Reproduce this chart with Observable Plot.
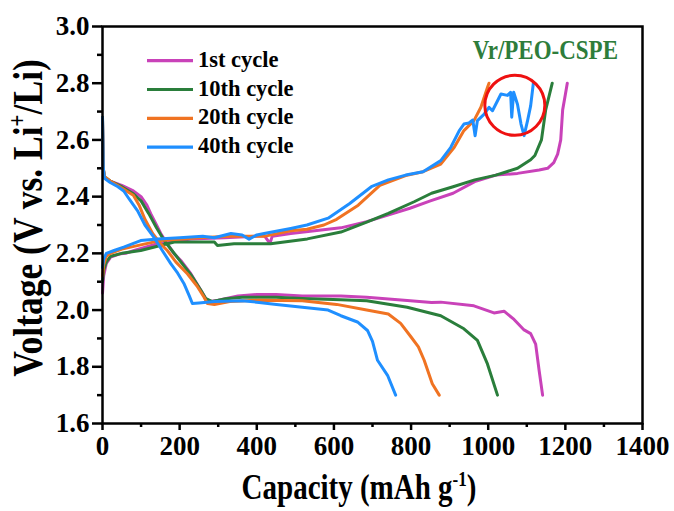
<!DOCTYPE html>
<html>
<head>
<meta charset="utf-8">
<script src="https://cdn.jsdelivr.net/npm/d3@7"></script>
<script src="https://cdn.jsdelivr.net/npm/@observablehq/plot@0.6"></script>
<style>
  html, body { margin: 0; padding: 0; background: #fff; }
  #chart { width: 674px; height: 511px; }
</style>
</head>
<body>
<div id="chart"></div>
<script>
// ---------- data (capacity mAh/g, voltage V) ----------
const seriesNames = ["1st cycle", "10th cycle", "20th cycle", "40th cycle"];
const seriesColors = ["#c942b9", "#2a7e3b", "#f07322", "#1f8fff"];

const c1Discharge = [[0,2.67],[2,2.5],[5,2.465],[20,2.455],[50,2.44],[80,2.42],[100,2.40],[115,2.37],[125,2.34],[140,2.30],[151,2.27],[168,2.234],[185,2.20],[203,2.175],[229,2.128],[255,2.07],[268,2.04],[280,2.03],[300,2.035],[351,2.05],[400,2.055],[450,2.055],[518,2.05],[618,2.05],[685,2.045],[790,2.034],[853,2.027],[877,2.028],[963,2.015],[1015,1.99],[1041,1.996],[1067,1.967],[1093,1.93],[1110,1.917],[1123,1.88],[1132,1.787],[1141,1.70]];
const c10Discharge = [[0,2.68],[2,2.5],[5,2.47],[20,2.455],[50,2.435],[80,2.41],[100,2.385],[120,2.34],[140,2.29],[160,2.245],[180,2.21],[203,2.17],[229,2.125],[255,2.07],[268,2.04],[285,2.03],[320,2.04],[362,2.045],[450,2.045],[518,2.041],[618,2.036],[685,2.033],[790,2.01],[877,1.98],[937,1.934],[972,1.893],[998,1.81],[1024,1.70]];
const c20Discharge = [[0,2.67],[2,2.5],[5,2.47],[20,2.455],[50,2.43],[80,2.405],[95,2.37],[110,2.32],[130,2.27],[150,2.235],[168,2.21],[190,2.17],[220,2.128],[245,2.085],[263,2.046],[272,2.023],[290,2.02],[330,2.03],[406,2.035],[518,2.033],[607,2.02],[685,2.0],[741,1.986],[773,1.953],[800,1.905],[819,1.87],[834,1.823],[855,1.74],[873,1.70]];
const c40Discharge = [[0,2.68],[2,2.5],[5,2.465],[20,2.45],[40,2.435],[55,2.42],[70,2.39],[91,2.35],[110,2.30],[133,2.257],[155,2.21],[177,2.164],[195,2.13],[211,2.094],[225,2.05],[233,2.023],[250,2.025],[290,2.03],[362,2.033],[406,2.027],[451,2.02],[518,2.01],[585,2.0],[618,1.98],[661,1.958],[687,1.928],[700,1.89],[713,1.823],[739,1.77],[760,1.70]];

const c1Charge = [[0,2.06],[3,2.12],[10,2.165],[21,2.187],[47,2.199],[60,2.2],[82,2.21],[143,2.234],[229,2.251],[316,2.255],[420,2.262],[434,2.235],[440,2.26],[488,2.27],[550,2.28],[618,2.29],[685,2.312],[740,2.335],[797,2.359],[850,2.385],[909,2.412],[965,2.453],[1020,2.476],[1076,2.482],[1132,2.494],[1154,2.5],[1170,2.52],[1180,2.55],[1188,2.6],[1193,2.706],[1200,2.76],[1205,2.8]];
const c10Charge = [[0,2.1],[3,2.14],[10,2.17],[21,2.19],[50,2.2],[99,2.21],[186,2.24],[290,2.24],[298,2.228],[341,2.234],[436,2.234],[531,2.251],[618,2.275],[685,2.31],[741,2.341],[808,2.382],[853,2.412],[909,2.435],[965,2.459],[1020,2.476],[1076,2.5],[1110,2.53],[1121,2.545],[1138,2.6],[1149,2.706],[1166,2.8]];
const c20Charge = [[0,2.12],[3,2.16],[10,2.19],[21,2.2],[50,2.215],[99,2.23],[150,2.245],[250,2.255],[330,2.26],[419,2.26],[488,2.28],[530,2.285],[574,2.3],[607,2.32],[663,2.37],[719,2.44],[786,2.474],[831,2.488],[877,2.515],[912,2.574],[937,2.633],[963,2.668],[981,2.715],[998,2.785],[1002,2.8]];
const c40Charge = [[0,2.15],[3,2.18],[10,2.2],[30,2.21],[55,2.222],[99,2.245],[143,2.251],[200,2.255],[260,2.26],[290,2.255],[333,2.27],[362,2.265],[380,2.25],[400,2.265],[419,2.27],[488,2.288],[530,2.3],[585,2.324],[641,2.376],[697,2.435],[741,2.459],[786,2.476],[831,2.488],[877,2.527],[903,2.574],[925,2.633],[937,2.656],[950,2.66],[960,2.67],[966,2.615],[972,2.668],[989,2.69],[1002,2.715],[1011,2.703],[1033,2.762],[1050,2.757],[1058,2.768],[1061,2.68],[1066,2.768],[1076,2.725],[1085,2.656],[1093,2.615],[1102,2.668],[1110,2.72],[1117,2.8]];

const xMajorTicks = [0, 200, 400, 600, 800, 1000, 1200, 1400];
const xMinorTicks = [100, 300, 500, 700, 900, 1100, 1300];
const yMajorTicks = [1.6, 1.8, 2.0, 2.2, 2.4, 2.6, 2.8, 3.0];
const yMinorTicks = [1.7, 1.9, 2.1, 2.3, 2.5, 2.7, 2.9];
const circleCenter = [{cap: 1069, v: 2.722}];
const annotationText = "Vr/PEO-CSPE";

// ---------- build tables ----------
const curves = [
  [c1Discharge, c1Charge],
  [c10Discharge, c10Charge],
  [c20Discharge, c20Charge],
  [c40Discharge, c40Charge]
];
const toRows = (arr, id) => arr.map(([cap, v]) => ({cap, v, id}));

const FONT = "'Liberation Serif','Times New Roman',serif";
const lineMarks = [];
curves.forEach((pair, i) => {
  pair.forEach((arr, j) => {
    lineMarks.push(Plot.line(toRows(arr, i + "-" + j), {x: "cap", y: "v", stroke: seriesColors[i], strokeWidth: 3, strokeLinejoin: "round", strokeLinecap: "round"}));
  });
});

const chart = Plot.plot({
  width: 674,
  height: 511,
  marginLeft: 102,
  marginRight: 32,
  marginTop: 26,
  marginBottom: 88,
  style: {fontFamily: FONT, fontSize: "27px", fontWeight: "bold", background: "white", color: "black", overflow: "visible"},
  x: {domain: [0, 1400]},
  y: {domain: [1.6, 3.0]},
  marks: [
    Plot.axisX({ticks: xMajorTicks, tickSize: 7, tickPadding: 5, strokeWidth: 2.5, label: null, tickFormat: d => String(d), fontSize: 27}),
    Plot.axisX({ticks: xMinorTicks, tickSize: 4, strokeWidth: 2.5, label: null, tickFormat: () => ""}),
    Plot.axisY({ticks: yMajorTicks, tickSize: 10, tickPadding: 3, strokeWidth: 2.5, label: null, tickFormat: d3.format(".1f"), fontSize: 27}),
    Plot.axisY({ticks: yMinorTicks, tickSize: 5, strokeWidth: 2.5, label: null, tickFormat: () => ""}),
    ...lineMarks,
    Plot.dot(circleCenter, {x: "cap", y: "v", r: 30, stroke: "#ee1111", strokeWidth: 3, fill: "none"}),
    Plot.frame({stroke: "black", strokeWidth: 2.5})
  ]
});

document.getElementById("chart").appendChild(chart);

// ---------- legend, annotation, axis titles ----------
const svg = d3.select(chart);
const g = svg.append("g").attr("font-family", FONT).attr("font-weight", "bold").attr("text-anchor", "start");

seriesNames.forEach((name, i) => {
  const y = 60.7 + i * 28.8;
  g.append("line").attr("x1", 147).attr("x2", 193).attr("y1", y).attr("y2", y)
    .attr("stroke", seriesColors[i]).attr("stroke-width", 3.2);
  g.append("text").attr("x", 198).attr("y", y + 6).attr("font-size", 22.5)
    .attr("text-anchor", "start").attr("fill", "black").text(name);
});

g.append("text").attr("transform", "translate(618,59) scale(1,1.2)").attr("text-anchor", "end")
  .attr("font-size", 23).attr("fill", "#2e7d3b").text(annotationText);

const xt = g.append("text").attr("transform", "translate(359,499) scale(1,1.2)").attr("text-anchor", "middle").attr("font-size", 29).attr("fill", "black");
xt.append("tspan").text("Capacity (mAh g");
xt.append("tspan").attr("font-size", 17).attr("dy", -11).text("-1");
xt.append("tspan").attr("dy", 11).text(")");

const yt = g.append("text").attr("transform", "translate(42,218) rotate(-90) scale(1,1.2)").attr("text-anchor", "middle").attr("font-size", 35.5).attr("fill", "black");
yt.append("tspan").text("Voltage (V vs. Li");
yt.append("tspan").attr("font-size", 21).attr("dy", -13).text("+");
yt.append("tspan").attr("dy", 13).text("/Li)");
</script>
</body>
</html>
